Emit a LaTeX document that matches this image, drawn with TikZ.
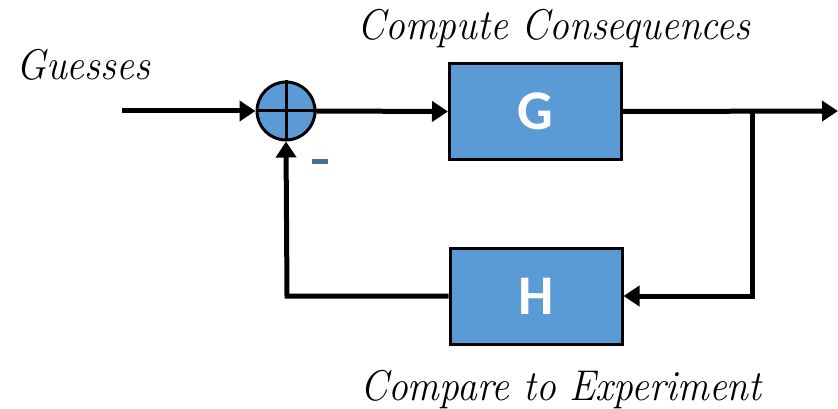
\documentclass[tikz,border=0pt]{standalone}
\usepackage{fontspec}
\newfontfamily\lblfont{Carlito}
\usetikzlibrary{arrows.meta}
\definecolor{boxblue}{HTML}{5B9BD5}
\definecolor{minusblue}{HTML}{41719C}
\newcommand{\captxt}[1]{\scalebox{0.92}[1]{#1}}
\tikzset{
  blockbox/.style={draw=black, line width=3pt, fill=boxblue, minimum width=172pt, minimum height=96pt, inner sep=0pt,
    font=\lblfont\bfseries\fontsize{56}{56}\selectfont, text=white},
  sumnode/.style={circle, draw=black, line width=3pt, fill=boxblue, minimum size=58pt, inner sep=0pt},
  sig/.style={line width=5pt, -{Triangle[length=16pt,width=20pt]}},
  captext/.style={font=\itshape\fontsize{43}{43}\selectfont, inner sep=0pt}
}
\begin{document}
\begin{tikzpicture}[x=1pt,y=-1pt]
\useasboundingbox (0,0) rectangle (838,409);
\node[sumnode] (sum) at (286,111) {};
\draw[line width=3pt] (sum.north) -- (sum.south) (sum.west) -- (sum.east);
\node[blockbox] (G) at (535.5,111.5) {G};
\node[blockbox] (H) at (536,296) {H};
\coordinate (in) at (122,111);
\coordinate (out) at (838,111);
\coordinate (br) at (752,111);
\coordinate (brd) at (752,296);
\coordinate (fbl) at (287,296);
\draw[sig] (in) -- (sum.west);
\draw[sig] (sum.east) -- (G.west);
\draw[sig] (G.east) -- (out);
\draw[sig] (br) -- (brd) -- (H.east);
\draw[sig] (H.west) -- (fbl) -- (sum.south);
\node[captext, anchor=base west] (guess) at (16,80) {\captxt{Guesses}};
\node[captext, anchor=base] (cc) at (554,40) {\captxt{Compute Consequences}};
\node[captext, anchor=base] (ce) at (561,400) {\captxt{Compare to Experiment}};
\node[fill=minusblue, minimum width=16pt, minimum height=5pt, inner sep=0pt] (minus) at (320,162) {};
\end{tikzpicture}
\end{document}
